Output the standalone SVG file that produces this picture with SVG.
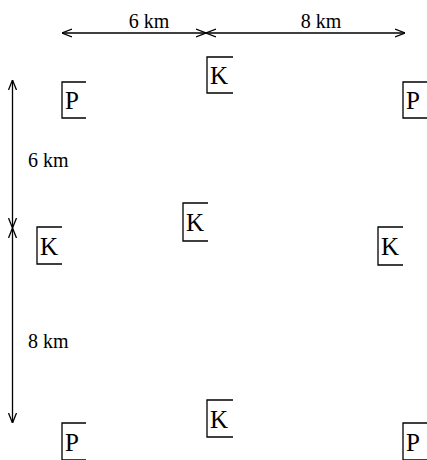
<svg xmlns="http://www.w3.org/2000/svg" width="427" height="460" viewBox="0 0 427 460">
<style>
.box{fill:none;stroke:#000;stroke-width:1.3}
.lbl{font-family:"Liberation Serif","Times New Roman",serif;font-size:25px;fill:#000}
.dim{font-family:"Liberation Serif","Times New Roman",serif;font-size:20px;fill:#000}
.ln{stroke:#000;stroke-width:1.3;fill:none}
</style>
<defs>
<marker id="ah" viewBox="0 0 10 10" refX="10" refY="5" markerWidth="10" markerHeight="10" markerUnits="userSpaceOnUse" orient="auto-start-reverse">
<path d="M0,1 L10,5 L0,9" fill="none" stroke="#000" stroke-width="1.3"/>
</marker>
</defs>
<rect width="427" height="460" fill="#fff"/>
<g id="connectors">
<line class="ln" x1="62" y1="33" x2="206" y2="33" marker-start="url(#ah)" marker-end="url(#ah)"/>
<line class="ln" x1="206" y1="33" x2="405" y2="33" marker-start="url(#ah)" marker-end="url(#ah)"/>
<line class="ln" x1="12.5" y1="80" x2="12.5" y2="228" marker-start="url(#ah)" marker-end="url(#ah)"/>
<line class="ln" x1="12.5" y1="228" x2="12.5" y2="423" marker-start="url(#ah)" marker-end="url(#ah)"/>
<text class="dim" x="149" y="28" text-anchor="middle">6 km</text>
<text class="dim" x="321" y="28" text-anchor="middle">8 km</text>
<text class="dim" x="28" y="167">6 km</text>
<text class="dim" x="28" y="348">8 km</text>
</g>
<g id="p-tl"><path class="box" d="M86,82 H62 V118 H86"/><text class="lbl" x="65" y="109">P</text></g>
<g id="k-top"><path class="box" d="M233,57 H207 V93 H233"/><text class="lbl" x="210" y="84">K</text></g>
<g id="p-tr"><path class="box" d="M427,82 H403 V118 H427"/><text class="lbl" x="406" y="109">P</text></g>
<g id="k-center"><path class="box" d="M208,203 H183 V241 H208"/><text class="lbl" x="186" y="231">K</text></g>
<g id="k-left"><path class="box" d="M62,227 H37 V264 H62"/><text class="lbl" x="40" y="255">K</text></g>
<g id="k-right"><path class="box" d="M403,227 H378 V265 H403"/><text class="lbl" x="381" y="255">K</text></g>
<g id="k-bottom"><path class="box" d="M233,400 H207 V437 H233"/><text class="lbl" x="210" y="428">K</text></g>
<g id="p-bl"><path class="box" d="M86,423 H62 V460 H86"/><text class="lbl" x="65" y="451">P</text></g>
<g id="p-br"><path class="box" d="M427,423 H403 V460 H427"/><text class="lbl" x="406" y="451">P</text></g>
</svg>
